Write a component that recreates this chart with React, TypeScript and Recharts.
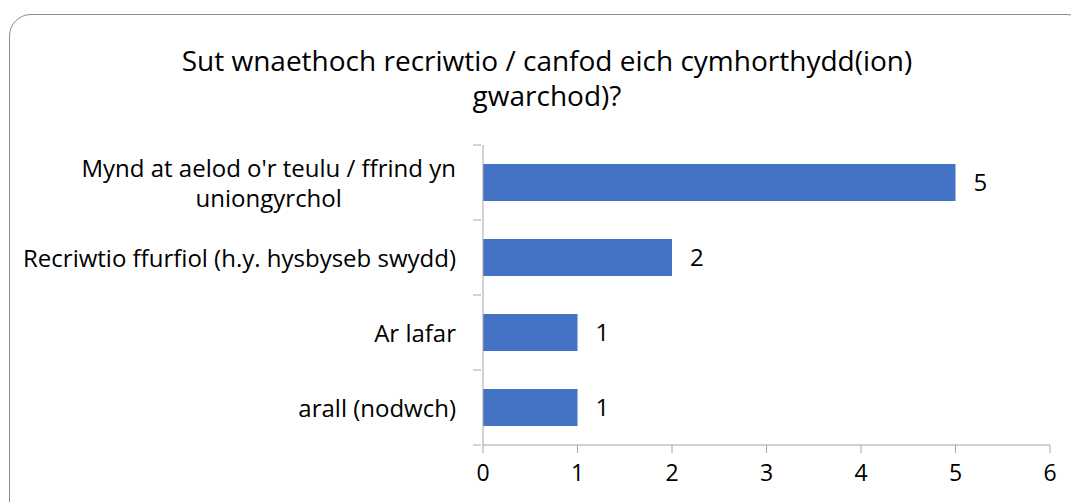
import React from 'react'
import { BarChart, Bar, XAxis, YAxis, LabelList } from 'recharts'

const title = ['Sut wnaethoch recriwtio / canfod eich cymhorthydd(ion)', 'gwarchod)?']

const categories = [
  "Mynd at aelod o'r teulu / ffrind yn\nuniongyrchol",
  'Recriwtio ffurfiol (h.y. hysbyseb swydd)',
  'Ar lafar',
  'arall (nodwch)',
]

const counts = [5, 2, 1, 1]

const xTicks = [0, 1, 2, 3, 4, 5, 6]

const data = categories.map((name, i) => ({ name, count: counts[i] }))

const FONT = '"Open Sans", "Noto Sans", sans-serif'
const AXIS_COLOR = '#a6a6a6'
const LABEL_SIZE = 24

let ctx: CanvasRenderingContext2D | null = null
function textWidth(s: string) {
  if (!ctx) ctx = document.createElement('canvas').getContext('2d')
  if (!ctx) return s.length * 11
  ctx.font = `${LABEL_SIZE}px ${FONT}`
  return ctx.measureText(s).width
}

// category label with Excel-style tick marks on the band edges
function CategoryTick(props: any) {
  const { x, y, payload, index, visibleTicksCount } = props
  const band = 75
  const lines = String(payload.value).split('\n')
  const right = x - 17
  const widest = Math.max(...lines.map(textWidth))
  const cx = right - widest / 2
  const lh = 30
  const top = y - ((lines.length - 1) * lh) / 2
  const axisX = x + 8
  return (
    <g>
      <line x1={axisX - 8} x2={axisX} y1={y - band / 2} y2={y - band / 2} stroke={AXIS_COLOR} />
      {index === visibleTicksCount - 1 && (
        <line x1={axisX - 8} x2={axisX} y1={y + band / 2} y2={y + band / 2} stroke={AXIS_COLOR} />
      )}
      {lines.map((l, i) => (
        <text
          key={i}
          x={lines.length > 1 ? cx : right}
          y={top + i * lh}
          textAnchor={lines.length > 1 ? 'middle' : 'end'}
          dominantBaseline="central"
          fontSize={LABEL_SIZE}
          fontFamily={FONT}
          fill="#000"
        >
          {l}
        </text>
      ))}
    </g>
  )
}

export default function App() {
  return (
    <div style={{ position: 'fixed', left: 0, top: 0, width: 1071, height: 502, overflow: 'hidden', background: '#fff' }}>
      <div
        style={{
          position: 'absolute',
          left: 9,
          top: 14,
          width: 1080,
          height: 520,
          border: '1px solid #8c8c8c',
          borderRadius: 22,
          boxSizing: 'border-box',
        }}
      />
      <div
        style={{
          position: 'absolute',
          left: 9,
          width: 1076,
          top: 43,
          textAlign: 'center',
          fontFamily: FONT,
          fontSize: 28,
          lineHeight: '35px',
          color: '#000',
        }}
      >
        {title.map((t) => (
          <div key={t}>{t}</div>
        ))}
      </div>
      <div style={{ position: 'absolute', left: 0, top: 0 }}>
        <BarChart
          width={1071}
          height={502}
          data={data}
          layout="vertical"
          margin={{ top: 145, right: 21, bottom: 27, left: 0 }}
          barCategoryGap="50%"
        >
          <XAxis
            type="number"
            domain={[0, 6]}
            ticks={xTicks}
            interval={0}
            height={30}
            stroke={AXIS_COLOR}
            tickSize={8}
            tick={{ fontSize: 23, fill: '#000', fontFamily: FONT, dy: 10 }}
          />
          <YAxis
            type="category"
            dataKey="name"
            width={483}
            stroke={AXIS_COLOR}
            tickLine={false}
            tickSize={8}
            tick={<CategoryTick />}
            interval={0}
          />
          <Bar dataKey="count" fill="#4472c4" barSize={37} isAnimationActive={false}>
            <LabelList
              dataKey="count"
              position="right"
              offset={18}
              fill="#000"
              fontSize={LABEL_SIZE}
              fontFamily={FONT}
            />
          </Bar>
        </BarChart>
      </div>
    </div>
  )
}
